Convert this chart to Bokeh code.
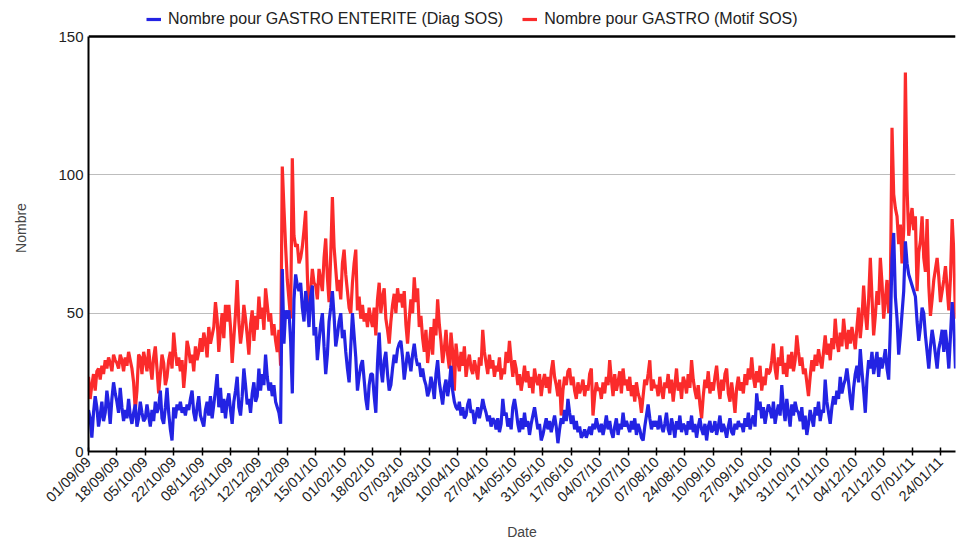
import pandas as pd
from datetime import datetime
from math import pi
from bokeh.plotting import figure
from bokeh.models import (ColumnDataSource, FixedTicker, DatetimeTickFormatter, Range1d,
                          Legend, LegendItem, Span)
from bokeh.embed import file_html
from bokeh.resources import INLINE

START_DATE = "2009-09-01"

SERIES_BLUE_NAME = "Nombre pour GASTRO ENTERITE (Diag SOS)"
SERIES_RED_NAME = "Nombre pour GASTRO (Motif SOS)"

# daily values, blocks of 17 days (one block between two ticks)
gastro_motif = [
    27, 19, 24, 28, 22, 29, 30, 26, 31, 28, 33, 30, 34, 32, 29, 35, 33,
    32, 30, 35, 33, 29, 34, 31, 36, 33, 30, 25, 15, 22, 35, 34, 28, 36,
    33, 29, 37, 31, 26, 34, 38, 30, 21, 28, 35, 32, 24, 27, 33, 36, 30,
    43, 36, 31, 34, 29, 33, 23, 30, 40, 37, 32, 35, 29, 38, 33, 36, 41,
    36, 43, 40, 34, 45, 39, 42, 45, 54, 48, 36, 44, 50, 41, 53, 47, 53,
    45, 32, 41, 50, 62, 47, 39, 44, 53, 48, 42, 35, 46, 51, 40, 49, 44,
    56, 48, 52, 44, 59, 53, 47, 50, 42, 46, 40, 36, 44, 31, 103, 88, 74,
    62, 55, 48, 106, 78, 74, 75, 68, 70, 74, 80, 87, 64, 47, 58, 66, 61,
    60, 55, 66, 62, 58, 70, 77, 63, 54, 71, 92, 74, 66, 58, 62, 55, 68,
    73, 64, 58, 52, 50, 61, 68, 73, 51, 56, 48, 53, 47, 50, 45, 52, 48,
    45, 52, 42, 55, 61, 50, 56, 59, 48, 44, 39, 47, 53, 57, 50, 59, 54,
    57, 52, 58, 46, 39, 48, 55, 50, 63, 54, 59, 45, 49, 41, 36, 44, 32,
    38, 45, 35, 48, 42, 55, 46, 40, 32, 37, 44, 35, 30, 43, 36, 22, 39,
    33, 29, 36, 31, 38, 27, 32, 35, 30, 28, 33, 30, 26, 34, 31, 44, 36,
    32, 28, 35, 30, 33, 27, 31, 29, 34, 26, 30, 28, 36, 32, 40, 33, 27,
    33, 30, 24, 28, 22, 26, 31, 25, 29, 23, 27, 21, 30, 26, 24, 28, 20,
    25, 28, 23, 27, 21, 29, 33, 27, 24, 20, 26, 13, 22, 27, 24, 29, 30,
    24, 27, 22, 19, 25, 21, 23, 26, 20, 24, 22, 28, 30, 13, 20, 25, 22,
    23, 19, 25, 21, 27, 24, 33, 26, 20, 28, 22, 25, 29, 21, 30, 24, 26,
    22, 27, 20, 24, 18, 25, 21, 19, 14, 20, 26, 24, 28, 33, 22, 26, 23,
    24, 20, 27, 22, 19, 25, 23, 28, 21, 26, 18, 24, 30, 22, 25, 19, 27,
    25, 21, 28, 23, 33, 26, 22, 19, 24, 17, 12, 20, 26, 23, 29, 21, 25,
    22, 27, 31, 24, 19, 26, 22, 28, 30, 21, 18, 25, 20, 14, 23, 27, 22,
    25, 21, 28, 24, 30, 26, 34, 27, 23, 29, 25, 31, 22, 27, 24, 30, 28,
    29, 33, 39, 30, 26, 34, 31, 38, 28, 32, 27, 35, 30, 36, 29, 33, 42,
    36, 31, 34, 28, 30, 25, 20, 27, 33, 29, 35, 31, 37, 33, 30, 36, 42,
    35, 39, 33, 41, 37, 48, 40, 36, 43, 38, 48, 42, 37, 44, 39, 45, 41,
    37, 45, 52, 41, 48, 60, 50, 44, 55, 70, 56, 42, 49, 58, 53, 70, 61,
    48, 55, 62, 50, 58, 117, 93, 88, 85, 75, 82, 68, 80, 137, 95, 78, 84,
    88, 80, 85, 58, 72, 76, 85, 70, 65, 84, 60, 49, 55, 62, 66, 70, 63,
    54, 58, 62, 67, 59, 51, 63, 84, 72, 48,
]

gastro_enterite = [
    15, 12, 5, 14, 20, 16, 9, 13, 18, 11, 14, 22, 17, 10, 19, 25, 21,
    18, 14, 23, 16, 11, 15, 12, 19, 13, 10, 14, 17, 9, 12, 18, 14, 11,
    12, 17, 13, 9, 15, 11, 18, 14, 16, 22, 12, 10, 16, 23, 14, 8, 4,
    16, 12, 17, 15, 18, 14, 16, 13, 17, 15, 19, 22, 14, 11, 16, 20, 13,
    11, 9, 15, 18, 13, 20, 12, 17, 22, 28, 16, 23, 14, 19, 12, 18, 21,
    15, 10, 18, 22, 27, 16, 13, 20, 30, 24, 17, 19, 14, 21, 25, 18, 20,
    30, 22, 28, 24, 35, 27, 22, 25, 20, 24, 18, 16, 14, 10, 66, 39, 51,
    48, 51, 40, 21, 55, 64, 60, 58, 61, 52, 47, 58, 53, 45, 56, 60, 42,
    45, 33, 40, 46, 50, 38, 28, 35, 47, 52, 58, 49, 38, 42, 47, 50, 41,
    44, 36, 30, 25, 38, 50, 42, 34, 22, 27, 31, 33, 26, 19, 15, 24, 28,
    28, 20, 14, 32, 43, 30, 25, 33, 36, 28, 22, 24, 30, 35, 32, 37, 39,
    40, 34, 26, 31, 36, 33, 29, 35, 39, 34, 31, 32, 27, 30, 26, 24, 20,
    22, 27, 24, 19, 28, 33, 25, 21, 17, 23, 26, 20, 24, 31, 22, 18, 16,
    15, 18, 13, 16, 12, 13, 17, 19, 14, 15, 10, 13, 16, 12, 15, 19, 16,
    14, 11, 13, 9, 12, 11, 8, 12, 7, 10, 19, 13, 14, 9, 12, 8, 16,
    19, 15, 10, 7, 12, 8, 14, 9, 11, 6, 10, 13, 16, 12, 8, 10, 4,
    6, 9, 12, 8, 11, 7, 10, 13, 9, 3, 8, 12, 10, 15, 11, 19, 14,
    10, 13, 8, 11, 7, 9, 5, 6, 8, 5, 7, 9, 6, 10, 8, 12, 9,
    7, 10, 6, 9, 13, 8, 11, 7, 5, 9, 12, 6, 10, 8, 14, 9, 11,
    9, 7, 11, 8, 12, 6, 10, 8, 5, 4, 9, 13, 17, 12, 8, 11, 9,
    11, 8, 13, 9, 7, 10, 14, 8, 6, 12, 9, 5, 11, 8, 13, 7, 10,
    9, 6, 11, 8, 13, 7, 10, 5, 9, 12, 8, 6, 10, 4, 9, 11, 7,
    8, 11, 6, 9, 13, 7, 10, 8, 5, 9, 12, 7, 6, 10, 8, 11, 9,
    10, 7, 12, 9, 14, 8, 11, 13, 9, 21, 15, 18, 12, 16, 10, 14, 17,
    15, 12, 18, 10, 14, 17, 13, 24, 16, 11, 19, 14, 9, 17, 13, 18, 15,
    14, 11, 16, 8, 13, 6, 10, 15, 12, 9, 16, 13, 18, 11, 15, 14, 26,
    18, 14, 10, 16, 20, 17, 22, 19, 27, 21, 24, 26, 30, 25, 19, 15, 23,
    28, 31, 25, 37, 29, 22, 14, 26, 33, 30, 36, 28, 32, 36, 27, 34, 30,
    33, 37, 30, 26, 45, 70, 79, 56, 48, 35, 42, 50, 58, 76, 68, 64, 62,
    60, 58, 56, 47, 40, 45, 52, 50, 42, 36, 30, 38, 44, 40, 35, 30, 37,
    40, 44, 36, 44, 38, 30, 42, 54, 46, 30,
]

tick_labels = [
    "01/09/09", "18/09/09", "05/10/09", "22/10/09", "08/11/09", "25/11/09",
    "12/12/09", "29/12/09", "15/01/10", "01/02/10", "18/02/10", "07/03/10",
    "24/03/10", "10/04/10", "27/04/10", "14/05/10", "31/05/10", "17/06/10",
    "04/07/10", "21/07/10", "07/08/10", "24/08/10", "10/09/10", "27/09/10",
    "14/10/10", "31/10/10", "17/11/10", "04/12/10", "21/12/10", "07/01/11",
    "24/01/11",
]
y_ticks = [0, 50, 100, 150]
Y_MAX = 150

dates = pd.date_range(START_DATE, periods=len(gastro_motif), freq="D")
src = ColumnDataSource(dict(date=dates, motif=gastro_motif, diag=gastro_enterite))

FONT = "Liberation Sans"
BLUE = "#2323e3"
RED = "#fb2b2b"

# the frame extends a little above 150 so that the legend can sit over the plot area
p = figure(width=957, height=542, x_axis_type="datetime",
           output_backend="svg", toolbar_location=None,
           x_range=Range1d(dates[0], dates[-1]), y_range=Range1d(0, 161.6),
           min_border_left=88, min_border_right=2, min_border_top=4,
           min_border_bottom=3)

r_red = p.line("date", "motif", source=src, line_color=RED, line_width=3.2)
r_blue = p.line("date", "diag", source=src, line_color=BLUE, line_width=3.2)

tick_ms = [datetime.strptime(t, "%d/%m/%y").timestamp() * 1000 for t in tick_labels]
p.xaxis.ticker = FixedTicker(ticks=tick_ms)
fmt = "%d/%m/%y"
p.xaxis.formatter = DatetimeTickFormatter(
    milliseconds=fmt, seconds=fmt, minsec=fmt, minutes=fmt, hourmin=fmt,
    hours=fmt, days=fmt, months=fmt, years=fmt)
p.xaxis.major_label_orientation = pi / 4
p.xaxis.major_tick_in = 4
p.xaxis.major_tick_out = 4
p.xaxis.minor_tick_line_color = None
p.xaxis.axis_line_width = 2
p.xaxis.major_tick_line_width = 1.5
p.xaxis.major_label_text_font = FONT
p.xaxis.major_label_text_font_size = "14.5px"
p.xaxis.major_label_text_color = "#222222"
p.xaxis.major_label_standoff = 4
p.xaxis.axis_label = "Date"
p.xaxis.axis_label_text_font = FONT
p.xaxis.axis_label_text_font_size = "14px"
p.xaxis.axis_label_text_font_style = "normal"
p.xaxis.axis_label_text_color = "#444444"
p.xaxis.axis_label_standoff = 10

p.yaxis.ticker = FixedTicker(ticks=y_ticks)
p.yaxis.bounds = (0, Y_MAX)
p.yaxis.major_tick_in = 0
p.yaxis.major_tick_out = 0
p.yaxis.minor_tick_line_color = None
p.yaxis.axis_line_width = 2
p.yaxis.major_label_text_font = FONT
p.yaxis.major_label_text_font_size = "15px"
p.yaxis.major_label_text_color = "#222222"
p.yaxis.axis_label = "Nombre"
p.yaxis.axis_label_text_font = FONT
p.yaxis.axis_label_text_font_size = "14px"
p.yaxis.axis_label_text_font_style = "normal"
p.yaxis.axis_label_text_color = "#444444"
p.yaxis.axis_label_standoff = 26

p.xgrid.grid_line_color = None
p.ygrid.grid_line_color = "#bdbdbd"
p.ygrid.grid_line_width = 1.2
p.outline_line_color = None

top_line = Span(location=Y_MAX, dimension="width", line_color="black", line_width=2.5)
p.add_layout(top_line)

legend = Legend(items=[LegendItem(label=SERIES_BLUE_NAME, renderers=[r_blue]),
                       LegendItem(label=SERIES_RED_NAME, renderers=[r_red])],
                orientation="horizontal", location=(58, 423),
                label_text_font=FONT, label_text_font_size="16px",
                label_text_color="#222222", label_height=16,
                glyph_width=15, glyph_height=16, label_standoff=7, spacing=19,
                padding=0, margin=0, border_line_color=None,
                background_fill_alpha=0)
p.add_layout(legend)

open("out.html", "w").write(file_html(p, INLINE))
